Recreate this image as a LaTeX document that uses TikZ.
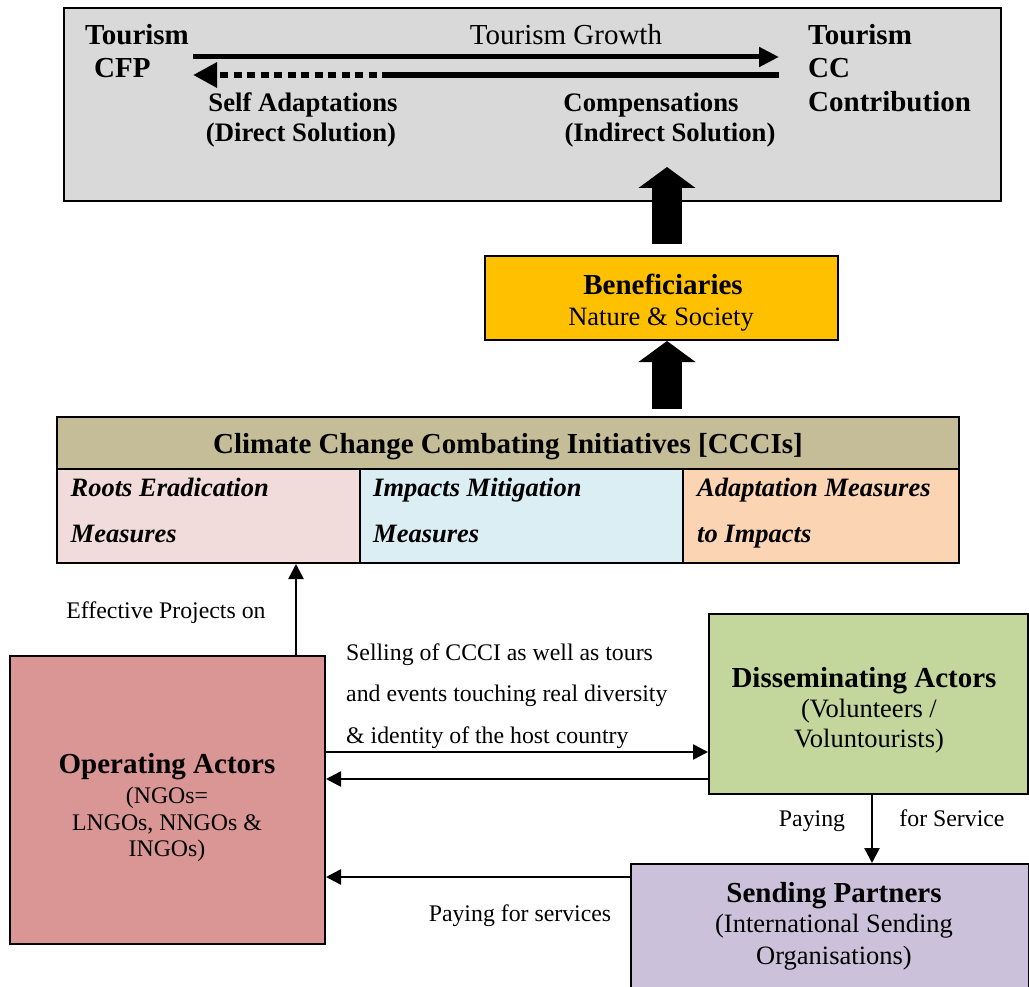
\documentclass[tikz,border=0pt]{standalone}
\usepackage{fontspec}
\setmainfont{Liberation Serif}
\usetikzlibrary{arrows.meta,positioning,calc}

\definecolor{topgray}{HTML}{D9D9D9}
\definecolor{benyellow}{HTML}{FFC000}
\definecolor{hdrtan}{HTML}{C4BD97}
\definecolor{rootpink}{HTML}{F2DCDB}
\definecolor{impblue}{HTML}{DBEEF4}
\definecolor{adaporange}{HTML}{FBD4B4}
\definecolor{opred}{HTML}{D99694}
\definecolor{disgreen}{HTML}{C3D69B}
\definecolor{sendpurple}{HTML}{CCC1DA}

\tikzset{
    box/.style={draw, line width=2pt, inner sep=0pt},
    hd/.style={font=\fontsize{29}{34}\selectfont\bfseries, inner sep=0pt, text height=26pt, text depth=6pt},
    bsub/.style={font=\fontsize{26.7}{31}\selectfont\bfseries, inner sep=0pt, text height=24pt, text depth=6pt},
    cell/.style={font=\fontsize{26.5}{31}\selectfont\bfseries\itshape, inner sep=0pt, text height=24pt, text depth=6pt, anchor=west},
    sub/.style={font=\fontsize{26.5}{31}\selectfont, inner sep=0pt, text height=24pt, text depth=6pt},
    lbl/.style={font=\fontsize{23.8}{28}\selectfont, inner sep=0pt, text height=22pt, text depth=5pt},
    arr/.style={line width=2.6pt, -{Triangle[width=15pt,length=15pt]}},
    bigarr/.style={line width=30pt, -{Triangle[width=56pt,length=21pt]}},
}

\begin{document}
\begin{tikzpicture}[x=1pt,y=-1pt]
        \useasboundingbox (0,0) rectangle (1029,987);

        % Riquadro superiore
        \node[box, fill=topgray, minimum width=937pt, minimum height=193pt] (top) at (532.5,104.5) {};
        \node[hd, anchor=west] (tcfp) at (85,35) {Tourism};
        \node[hd, anchor=west] (cfp) at (94,68) {CFP};
        \node[font=\fontsize{29}{34}\selectfont, inner sep=0pt, text height=26pt, text depth=6pt] (growth) at (566,35) {Tourism Growth};
        \node[hd, anchor=west] (tcc) at (808,35) {Tourism};
        \node[hd, anchor=west] (cc) at (808,68) {CC};
        \node[hd, anchor=west] (contrib) at (808,102) {Contribution};
        \node[bsub] (selfad) at (303,103) {Self Adaptations};
        \node[bsub] (direct) at (301,133) {(Direct Solution)};
        \node[bsub] (comp) at (651,103) {Compensations};
        \node[bsub] (indirect) at (670,133) {(Indirect Solution)};

        % Frecce crescita / soluzioni
        \coordinate (gs) at (193,57);
        \coordinate (ge) at (779,57);
        \coordinate (ce) at (779,75);
        \coordinate (cm) at (390,75);
        \coordinate (cs) at (193,75);
        \draw[line width=5pt, -{Triangle[width=19pt,length=20pt]}] (gs) -- (ge);
        \draw[line width=6pt] (ce) -- (cm);
        \draw[line width=6pt, dash pattern=on 8pt off 5.5pt, -{Triangle[width=24pt,length=24pt]}] (cm) -- (cs);

        % Beneficiari
        \node[box, fill=benyellow, minimum width=353pt, minimum height=84pt] (ben) at (661.5,298) {};
        \node[hd] (benti) at (663,285) {Beneficiaries};
        \node[sub] (bensub) at (661,317) {Nature \& Society};

        % Iniziative CCCI
        \node[box, fill=hdrtan, minimum width=902pt, minimum height=52pt] (ccci) at (508,443) {};
        \node[hd] (cccti) at (508,443) {Climate Change Combating Initiatives [CCCIs]};
        \node[box, fill=rootpink, minimum width=303pt, minimum height=94pt] (roots) at (208.5,516) {};
        \node[box, fill=impblue, minimum width=323pt, minimum height=94pt] (impacts) at (521.5,516) {};
        \node[box, fill=adaporange, minimum width=276pt, minimum height=94pt] (adapt) at (821,516) {};
        \node[cell] (roots1) at (70.5,487) {Roots Eradication};
        \node[cell] (roots2) at (70.5,533) {Measures};
        \node[cell] (imp1) at (373,487) {Impacts Mitigation};
        \node[cell] (imp2) at (373,533) {Measures};
        \node[cell] (adap1) at (697,487) {Adaptation Measures};
        \node[cell] (adap2) at (697,533) {to Impacts};

        % Frecce grandi
        \coordinate (bx) at (667,0);
        \draw[bigarr] ($(ben.north -| bx)+(0,-11)$) -- ($(top.south -| bx)+(0,-35)$);
        \draw[bigarr] ($(ccci.north -| bx)+(0,-7)$) -- (ben.south -| bx);

        % Attori
        \node[box, fill=opred, minimum width=315pt, minimum height=288pt] (op) at (167.5,800) {};
        \node[hd] (opti) at (167,763) {Operating Actors};
        \node[lbl] (op1) at (167,795) {(NGOs=};
        \node[lbl] (op2) at (167,822) {LNGOs, NNGOs \&};
        \node[lbl] (op3) at (167,848) {INGOs)};

        \node[box, fill=disgreen, minimum width=319pt, minimum height=180pt] (diss) at (868.5,704) {};
        \node[hd] (dissti) at (864,677) {Disseminating Actors};
        \node[sub] (diss1) at (869,708) {(Volunteers /};
        \node[sub] (diss2) at (869,738) {Voluntourists)};

        \node[box, fill=sendpurple, minimum width=398pt, minimum height=140pt, anchor=north west] (send) at (630,863) {};
        \node[hd] (sendti) at (834,892) {Sending Partners};
        \node[sub] (send1) at (834,923) {(International Sending};
        \node[sub] (send2) at (834,955) {Organisations)};

        % Collegamenti
        \coordinate (px) at (296,0);
        \draw[arr] (op.north -| px) -- (roots.south -| px);
        \node[lbl] (effect) at (166,610) {Effective Projects on};

        \coordinate (sy) at (0,752);
        \coordinate (by) at (0,779);
        \draw[arr] (op.east |- sy) -- (diss.west |- sy);
        \draw[arr] (diss.west |- by) -- (op.east |- by);
        \node[lbl, anchor=west] (sell1) at (346,652) {Selling of CCCI as well as tours};
        \node[lbl, anchor=west] (sell2) at (346,693) {and events touching real diversity};
        \node[lbl, anchor=west] (sell3) at (346,735) {\& identity of the host country};

        \coordinate (dx) at (872,0);
        \draw[arr] (diss.south -| dx) -- (send.north -| dx);
        \node[lbl] (pay1) at (812,818) {Paying};
        \node[lbl] (pay2) at (952,818) {for Service};

        \coordinate (sy2) at (0,877);
        \draw[arr] (send.west |- sy2) -- (op.east |- sy2);
        \node[lbl] (paysrv) at (520,913) {Paying for services};
\end{tikzpicture}
\end{document}
